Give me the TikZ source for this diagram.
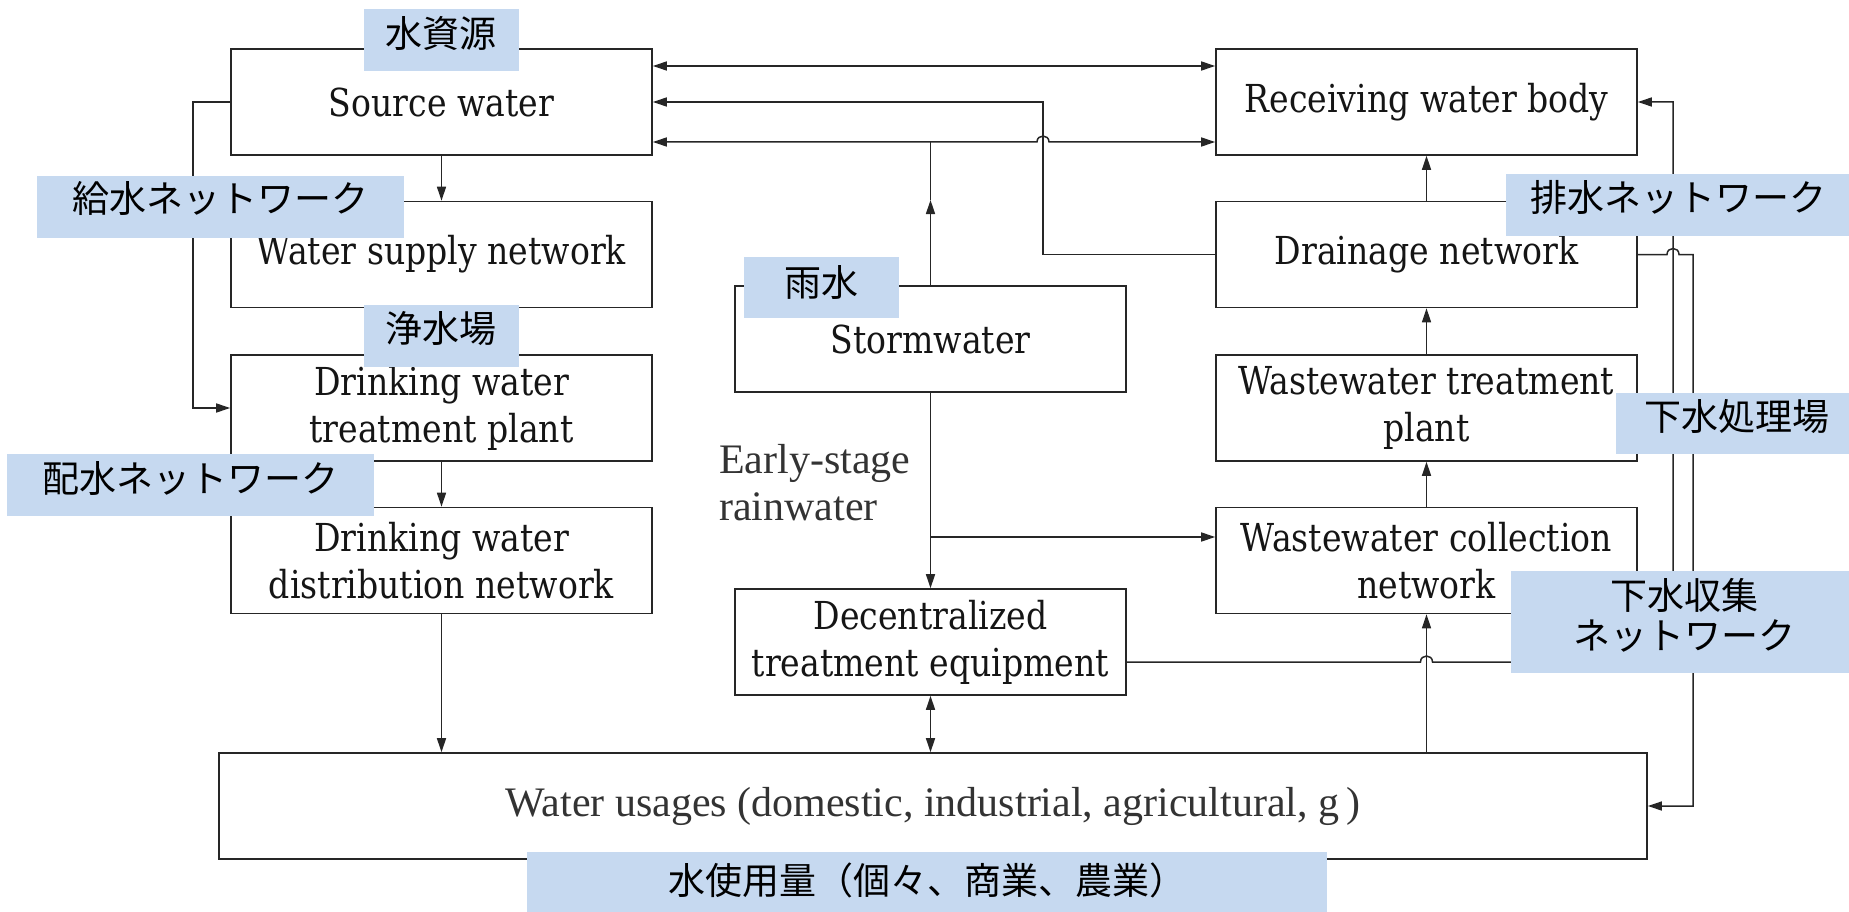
\documentclass[tikz,border=0pt]{standalone}
\usepackage{fontspec}
\setmainfont{Liberation Serif}
\newfontfamily\boxfont{DejaVu Serif}[FakeStretch=0.86]
\newfontfamily\jpfont{Noto Sans CJK JP}
\usetikzlibrary{arrows.meta}
\definecolor{linec}{HTML}{262626}
\definecolor{labfill}{HTML}{C6D9F0}
\definecolor{txt}{HTML}{151515}
\definecolor{softtxt}{HTML}{333333}
\begin{document}
\begin{tikzpicture}[x=1pt,y=-1pt,
  box/.style={draw=linec, line width=1.6pt, minimum width=421pt, minimum height=106pt,
    inner sep=0pt, align=center, text=txt, font=\boxfont\fontsize{38.5}{47}\selectfont},
  conn/.style={draw=linec, line width=1.5pt},
  arr/.style={conn, -{Triangle[length=14pt,width=9pt]}},
  darr/.style={conn, {Triangle[length=14pt,width=9pt]}-{Triangle[length=14pt,width=9pt]}},
  jbg/.style={fill=labfill},
  jtxt/.style={inner sep=0pt, align=center, text=black, font=\jpfont\fontsize{37}{40}\selectfont}]
\useasboundingbox (0,0) rectangle (1849,912);

% boxes
\node[box] (src)   at (441.5,102)   {Source water};
\node[box] (wsn)   at (441.5,254.5) {Water supply network};
\node[box] (dwtp)  at (441.5,408)   {Drinking water\\treatment plant};
\node[box] (dwdn)  at (441.5,560.5) {Drinking water\\distribution network};
\node[box] (recv)  at (1426.5,102)   {Receiving water body};
\node[box] (drain) at (1426.5,254.5) {Drainage network};
\node[box] (wwtp)  at (1426.5,408)   {Wastewater treatment\\plant};
\node[box] (wwcn)  at (1426.5,560.5) {Wastewater collection\\network};
\node[box, minimum width=391pt] (storm) at (930.5,339) {Stormwater};
\node[box, minimum width=391pt] (dec)   at (930.5,642) {Decentralized\\treatment equipment};
\node[box, minimum width=1428pt, text=softtxt, font=\fontsize{42}{47}\selectfont] (use) at (933,806)
  {Water usages (domestic, industrial, agricultural, g\,)};
\node[inner sep=0pt, anchor=west, align=left, text=softtxt,
  font=\fontsize{42}{47}\selectfont] (esr) at (719,483) {Early-stage\\rainwater};

% routing levels
\coordinate (r1)  at (0,66);
\coordinate (r3)  at (0,142);
\coordinate (lx)  at (193,0);
\coordinate (jx)  at (1043,0);
\coordinate (mid) at (0,200);
\coordinate (br)  at (0,537);
\coordinate (dl)  at (0,662);
\coordinate (rx1) at (1673,0);
\coordinate (rx2) at (1693,0);

% left column
\draw[arr] (src.south) -- (wsn.north);
\draw[arr] (src.west) -- (src.west -| lx) |- (dwtp.west);
\draw[arr] (dwtp.south) -- (dwdn.north);
\draw[arr] (dwdn.south) -- (dwdn.south |- use.north);

% links between source and receiving water
\draw[darr] (src.east |- r1) -- (recv.west |- r1);
\draw[darr] (src.east |- r3) -- (1037,142) .. controls (1037,134) and (1049,134) .. (1049,142)
  -- (recv.west |- r3);
\draw[arr] (drain.west) -- (drain.west -| jx) -- (jx |- src.east) -- (src.east);

% stormwater
\draw[arr] (storm.north) -- (storm.north |- mid);
\draw[conn] (storm.north |- mid) -- (storm.north |- r3);
\draw[arr] (storm.south) -- (dec.north);
\draw[arr] (storm.south |- br) -- (wwcn.west |- br);
\draw[darr] (dec.south) -- (dec.south |- use.north);

% right column
\draw[arr] (wwcn.south |- use.north) -- (wwcn.south);
\draw[arr] (wwcn.north) -- (wwtp.south);
\draw[arr] (wwtp.north) -- (drain.south);
\draw[arr] (drain.north) -- (recv.south);

% return loops on the right
\draw[arr] (dec.east |- dl) -- (1420.5,662) .. controls (1420.5,654) and (1432.5,654) .. (1432.5,662)
  -- (rx1 |- dl) -- (rx1 |- recv.east) -- (recv.east);
\draw[arr] (drain.east) -- (1667,254.5) .. controls (1667,246.5) and (1679,246.5) .. (1679,254.5)
  -- (rx2 |- drain.east) -- (rx2 |- use.east) -- (use.east);

% Japanese captions
\path[jbg] (364,9) rectangle (519,71);
\node[jtxt] (jsrc) at (441,33) {水資源};
\path[jbg] (37,176) rectangle (404,238);
\node[jtxt] (jwsn) at (220.5,198.5) {給水ネットワーク};
\path[jbg] (364,305) rectangle (519,367);
\node[jtxt] (jdwtp) at (441,328) {浄水場};
\path[jbg] (7,454) rectangle (374,516);
\node[jtxt] (jdwdn) at (190.5,478) {配水ネットワーク};
\path[jbg] (744,257) rectangle (899,318);
\node[jtxt] (jstorm) at (821.5,282) {雨水};
\path[jbg] (1506,174) rectangle (1849,236);
\node[jtxt] (jdrain) at (1678,197.5) {排水ネットワーク};
\path[jbg] (1616,393) rectangle (1849,454);
\node[jtxt] (jwwtp) at (1737,417) {下水処理場};
\path[jbg] (1511,571) rectangle (1849,673);
\node[jtxt] (jwwcn) at (1684,615) {下水収集\\ネットワーク};
\path[jbg] (527,852) rectangle (1327,912);
\node[jtxt] (juse) at (927,880) {水使用量（個々、商業、農業）};
\end{tikzpicture}
\end{document}
